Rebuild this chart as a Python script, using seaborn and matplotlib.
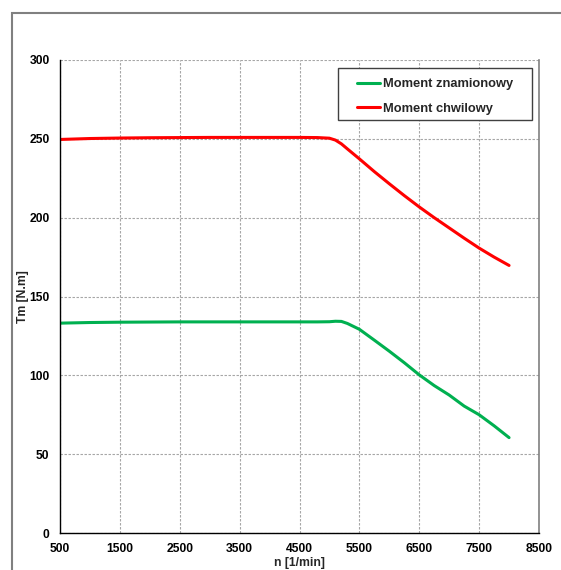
import matplotlib
matplotlib.use("Agg")
import matplotlib.pyplot as plt
import seaborn as sns
import pandas as pd
from matplotlib.patches import Rectangle

# ---- data ----
speed = [500, 1000, 1500, 2000, 2500, 3000, 3500, 4000, 4500, 4800, 5000, 5100,
         5200, 5300, 5500, 5750, 6000, 6250, 6500, 6750, 7000, 7250, 7500, 7750, 8000]
moment_chwilowy = [249.6, 250.2, 250.5, 250.7, 250.8, 250.9, 250.9, 250.9, 250.9, 250.8,
                   250.4, 249.2, 246.8, 243.6, 237.3, 229.2, 221.5, 214.0, 206.8, 200.0,
                   193.5, 187.0, 180.7, 175.0, 169.7]
moment_znamionowy = [133.1, 133.5, 133.7, 133.8, 133.9, 133.9, 133.9, 133.9, 133.9, 133.9,
                     134.0, 134.3, 134.2, 132.9, 129.2, 122.3, 115.3, 108.0, 100.3, 93.5,
                     87.5, 80.5, 75.0, 68.0, 60.5]
series_names = ["Moment znamionowy", "Moment chwilowy"]
series_colors = ["#00B050", "#FF0000"]
x_ticks = [500, 1500, 2500, 3500, 4500, 5500, 6500, 7500, 8500]
y_ticks = [0, 50, 100, 150, 200, 250, 300]

df = pd.DataFrame({
    "n": speed * 2,
    "Tm": moment_znamionowy + moment_chwilowy,
    "series": [series_names[0]] * len(speed) + [series_names[1]] * len(speed),
})

sns.set_theme(style="white")
plt.rcParams["font.family"] = ["Liberation Sans", "DejaVu Sans"]

W, H = 561, 570
fig = plt.figure(figsize=(W / 100, H / 100), dpi=100)
fig.patch.set_facecolor("white")

# outer chart frame
fig.patches.append(Rectangle((12 / W, -0.05), 1.2, 1 - 13 / H + 0.05,
                             transform=fig.transFigure, fill=False,
                             edgecolor="#808080", linewidth=1.5))

ax = fig.add_axes([60 / W, 1 - 533 / H, (539 - 60) / W, (533 - 60) / H])
ax.set_facecolor("white")

sns.lineplot(data=df, x="n", y="Tm", hue="series", hue_order=series_names,
             palette=series_colors, linewidth=2.2, ax=ax, legend=True)

ax.set_xlim(500, 8500)
ax.set_ylim(0, 300)
ax.set_xticks(x_ticks)
ax.set_yticks(y_ticks)
ax.set_xticklabels([str(v) for v in x_ticks], fontsize=8.7, fontweight="bold")
ax.set_yticklabels([str(v) for v in y_ticks], fontsize=8.7, fontweight="bold")
ax.tick_params(axis="x", length=0, pad=7.5, colors="black")
ax.tick_params(axis="y", length=0, pad=7.5, colors="black")

ax.grid(True, color="#A6A6A6", linestyle=(0, (2.2, 1.4)), linewidth=0.8)
ax.set_axisbelow(True)

ax.spines["top"].set_visible(False)
ax.spines["right"].set_color("#808080")
ax.spines["right"].set_linewidth(1.2)
ax.spines["left"].set_color("black")
ax.spines["left"].set_linewidth(1.0)
ax.spines["bottom"].set_color("black")
ax.spines["bottom"].set_linewidth(1.0)

ax.set_xlabel("n [1/min]", fontsize=8.7, fontweight="bold", labelpad=1)
ax.set_ylabel("Tm [N.m]", fontsize=8.7, fontweight="bold", labelpad=0.5)

# legend box drawn explicitly, legend entries placed inside it
box = Rectangle((338 / W, 1 - 120 / H), (532 - 338) / W, (120 - 68) / H,
                transform=fig.transFigure, facecolor="white",
                edgecolor="#404040", linewidth=1.0, zorder=5, clip_on=False)
ax.add_patch(box)
handles, labels = ax.get_legend_handles_labels()
leg = ax.legend(handles, labels, loc="upper left",
                bbox_to_anchor=(357 / W, 1 - 78 / H), bbox_transform=fig.transFigure,
                frameon=False, prop={"weight": "bold", "size": 9.3},
                handlelength=1.8, handletextpad=0.2, labelspacing=1.0,
                borderpad=0, borderaxespad=0)
leg.set_zorder(6)

fig.savefig("out.png", dpi=100, facecolor="white")
